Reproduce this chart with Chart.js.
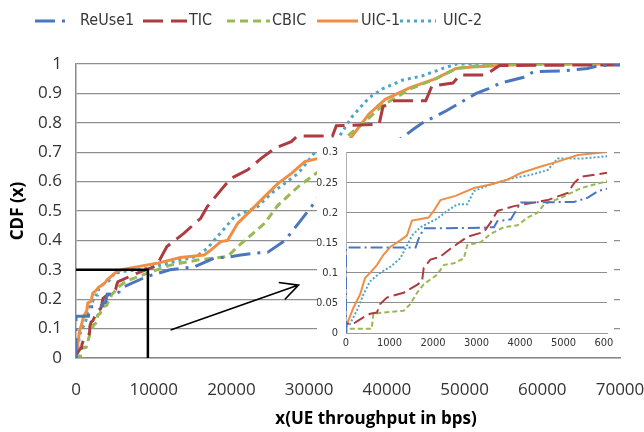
<!DOCTYPE html>
<html>
<head>
<meta charset="utf-8">
<script src="https://cdn.jsdelivr.net/npm/chart.js@4.4.0/dist/chart.umd.min.js"></script>
<style>
body { margin: 0; background: #fff; }
#wrap { position: relative; width: 644px; height: 432px; }
#inset { position: absolute; left: 317px; top: 138px; width: 297px; height: 218px; overflow: hidden; background: #fff; }
</style>
</head>
<body>
<div id="wrap">
  <canvas id="mainChart" width="644" height="432"></canvas>
  <div id="inset"><canvas id="insetChart" width="300" height="218"></canvas></div>
</div>
<script>
// series names and CDF readings (x = UE throughput in bps, y = CDF)
var seriesNames = ['ReUse1', 'TIC', 'CBIC', 'UIC-1', 'UIC-2'];

var reuseX = [0, 0, 1320, 1600, 1670, 1790, 3100, 3400, 3480, 3790, 4020, 5240, 5560, 5790, 6000, 9100, 12100, 15200, 17800, 19500, 21200, 22750, 24700, 26900, 28800, 30300, 31000, 42000, 43500, 44600, 46100, 47600, 50200, 51500, 53000, 54600, 57600, 58900, 60800, 62800, 65800, 67100, 70000];
var reuseY = [0, 0.142, 0.142, 0.142, 0.157, 0.174, 0.175, 0.176, 0.186, 0.189, 0.217, 0.218, 0.225, 0.236, 0.24, 0.277, 0.30, 0.31, 0.34, 0.343, 0.35, 0.356, 0.36, 0.40, 0.464, 0.515, 0.54, 0.75, 0.78, 0.80, 0.82, 0.84, 0.88, 0.90, 0.915, 0.935, 0.955, 0.974, 0.975, 0.977, 0.985, 0.993, 1];

var ticX = [0, 0, 200, 400, 554, 709, 785, 940, 1324, 1633, 1748, 1786, 1940, 2171, 2400, 2788, 3170, 3326, 3480, 3865, 4326, 4635, 5097, 5250, 5404, 5866, 7800, 9970, 10400, 11700, 13870, 16040, 16900, 18640, 19935, 22100, 23830, 25560, 27700, 28500, 33000, 33500, 39000, 39500, 41000, 45000, 45800, 48500, 49400, 52700, 54500, 70000];
var ticY = [0, 0.015, 0.017, 0.026, 0.032, 0.034, 0.048, 0.059, 0.067, 0.08, 0.086, 0.108, 0.122, 0.127, 0.14, 0.16, 0.168, 0.184, 0.203, 0.211, 0.217, 0.221, 0.233, 0.25, 0.26, 0.265, 0.288, 0.31, 0.316, 0.379, 0.424, 0.475, 0.515, 0.571, 0.611, 0.64, 0.679, 0.713, 0.736, 0.755, 0.755, 0.79, 0.795, 0.855, 0.875, 0.875, 0.925, 0.935, 0.963, 0.963, 0.995, 0.997];

var cbicX = [0, 0, 590, 630, 861, 1324, 1478, 1633, 1786, 2094, 2248, 2480, 2710, 2788, 3095, 3326, 3633, 3942, 4173, 4404, 4557, 4942, 5404, 5866, 6520, 9120, 12140, 15600, 19500, 20800, 22530, 24260, 26000, 28600, 31190, 34500, 37000, 39500, 43000, 46300, 49000, 52000, 58000, 70000];
var cbicY = [0, 0.007, 0.007, 0.032, 0.034, 0.037, 0.048, 0.067, 0.081, 0.097, 0.113, 0.116, 0.124, 0.146, 0.151, 0.165, 0.176, 0.179, 0.192, 0.20, 0.214, 0.225, 0.241, 0.25, 0.262, 0.288, 0.316, 0.333, 0.345, 0.379, 0.418, 0.458, 0.52, 0.583, 0.634, 0.745, 0.80, 0.86, 0.915, 0.95, 0.985, 0.995, 1, 1];

var uic1X = [0, 15, 170, 323, 440, 554, 709, 861, 1016, 1247, 1400, 1517, 1900, 2016, 2170, 2517, 2940, 3326, 3711, 4018, 4480, 4866, 5328, 6020, 7800, 10400, 13440, 16470, 17340, 18640, 19500, 20800, 22530, 24260, 26000, 27730, 29450, 31190, 35100, 37700, 39800, 43000, 46300, 48900, 51000, 56000, 60000, 70000];
var uic1Y = [0, 0.013, 0.042, 0.064, 0.092, 0.10, 0.113, 0.13, 0.143, 0.154, 0.162, 0.187, 0.192, 0.203, 0.221, 0.228, 0.241, 0.247, 0.255, 0.266, 0.277, 0.285, 0.296, 0.301, 0.31, 0.322, 0.342, 0.35, 0.367, 0.396, 0.40, 0.458, 0.503, 0.549, 0.594, 0.628, 0.668, 0.679, 0.74, 0.83, 0.88, 0.92, 0.95, 0.985, 0.99, 0.997, 1, 1];

var uic2X = [0, 92, 247, 400, 554, 785, 1016, 1247, 1363, 1517, 1709, 2094, 2325, 2557, 2788, 2940, 3326, 3865, 4250, 4635, 4866, 5400, 6020, 8000, 10000, 13000, 15500, 16900, 20370, 23400, 25130, 28600, 30750, 33300, 35500, 37700, 39400, 42000, 44600, 47200, 49000, 70000];
var uic2Y = [0.01, 0.015, 0.037, 0.064, 0.086, 0.10, 0.11, 0.124, 0.14, 0.162, 0.176, 0.19, 0.203, 0.214, 0.214, 0.236, 0.247, 0.258, 0.263, 0.271, 0.29, 0.29, 0.294, 0.30, 0.31, 0.33, 0.345, 0.373, 0.48, 0.515, 0.56, 0.628, 0.70, 0.73, 0.82, 0.885, 0.915, 0.945, 0.96, 0.985, 1, 1];

var mainXTicks = [0, 10000, 20000, 30000, 40000, 50000, 60000, 70000];
var insetXMax = 6000;
var insetYMax = 0.3;

// zoom marker (x, cdf) and arrow ends in data units
var zoomCorner = [9250, 0.3];
var arrowFrom = [12170, 0.095];
var arrowTo = [28640, 0.248];

var colors = ['#4a76c0', '#ad3c40', '#98b954', '#f08e44', '#4fa6c4'];
var dashMain = [[20, 7, 3, 7], [20, 8], [8, 5], [], [3, 4]];
var dashInset = [[12, 4, 2, 4], [12, 5], [5, 3], [], [2, 2]];

var xs = [reuseX, ticX, cbicX, uic1X, uic2X];
var ys = [reuseY, ticY, cbicY, uic1Y, uic2Y];

var tickFont = '"Open Sans", "Noto Sans", sans-serif';
var narrowFont = '"Liberation Sans Narrow", "DejaVu Sans Condensed", sans-serif';

function makeDatasets(dashes, width) {
    return seriesNames.map(function (name, i) {
        return {
            label: name,
            data: xs[i].map(function (x, j) { return { x: x, y: ys[i][j] }; }),
            borderColor: colors[i],
            borderWidth: width,
            borderDash: dashes[i],
            pointRadius: 0,
            fill: false,
            tension: 0
        };
    });
}

function cdfLabel(v) {
    return String(Number(v.toFixed(2)));
}

//! legend with line samples (sample start, sample end, text start)
var legendSlots = [[35, 70, 80], [143, 187, 189], [227, 270, 272], [317, 358, 361], [400, 436, 443]];
var legendPlugin = {
    id: 'lineLegend',
    afterDraw: function (chart) {
        var ctx = chart.ctx, y = 21;
        ctx.save();
        ctx.font = '16px ' + narrowFont;
        ctx.textBaseline = 'middle';
        chart.data.datasets.forEach(function (ds, i) {
            var slot = legendSlots[i];
            ctx.strokeStyle = ds.borderColor;
            ctx.lineWidth = 3;
            ctx.setLineDash(ds.borderDash);
            ctx.beginPath();
            ctx.moveTo(slot[0], y);
            ctx.lineTo(slot[1], y);
            ctx.stroke();
            ctx.fillStyle = '#383838';
            ctx.fillText(ds.label, slot[2], y);
        });
        ctx.restore();
    }
};

//! zoom marker, arrow and x title
var markPlugin = {
    id: 'marks',
    afterDatasetsDraw: function (chart) {
        var ctx = chart.ctx, sx = chart.scales.x, sy = chart.scales.y;
        ctx.save();
        ctx.strokeStyle = '#000';
        ctx.lineWidth = 2.5;
        ctx.beginPath();
        ctx.moveTo(sx.getPixelForValue(0), sy.getPixelForValue(zoomCorner[1]));
        ctx.lineTo(sx.getPixelForValue(zoomCorner[0]), sy.getPixelForValue(zoomCorner[1]));
        ctx.lineTo(sx.getPixelForValue(zoomCorner[0]), sy.getPixelForValue(0));
        ctx.stroke();

        var x1 = sx.getPixelForValue(arrowFrom[0]), y1 = sy.getPixelForValue(arrowFrom[1]);
        var x2 = sx.getPixelForValue(arrowTo[0]), y2 = sy.getPixelForValue(arrowTo[1]);
        var a = Math.atan2(y2 - y1, x2 - x1);
        ctx.lineWidth = 1.6;
        ctx.beginPath();
        ctx.moveTo(x1, y1);
        ctx.lineTo(x2, y2);
        ctx.moveTo(x2 - 20 * Math.cos(a - 0.47), y2 - 20 * Math.sin(a - 0.47));
        ctx.lineTo(x2, y2);
        ctx.lineTo(x2 - 20 * Math.cos(a + 0.47), y2 - 20 * Math.sin(a + 0.47));
        ctx.stroke();

        ctx.fillStyle = '#000';
        ctx.font = 'bold 17px ' + tickFont;
        ctx.textAlign = 'center';
        ctx.textBaseline = 'middle';
        ctx.fillText('x(UE throughput in bps)', 376, 419);
        ctx.restore();
    }
};

var mainChart = new Chart(document.getElementById('mainChart'), {
    type: 'line',
    data: { datasets: makeDatasets(dashMain, 3) },
    options: {
        responsive: false,
        animation: false,
        layout: { padding: { top: 64, right: 0, left: 0, bottom: 0 } },
        plugins: { legend: { display: false }, tooltip: { enabled: false } },
        scales: {
            x: {
                type: 'linear', min: 0, max: 70000,
                afterBuildTicks: function (s) { s.ticks = mainXTicks.map(function (v) { return { value: v }; }); },
                ticks: { font: { size: 17, family: tickFont }, color: '#333', padding: 22, maxRotation: 0, callback: function (v) { return String(v); } },
                grid: { display: false, drawTicks: false },
                border: { display: true, color: '#8a8a8a', width: 1.5 },
                afterFit: function (s) { s.height = 74; s.paddingLeft = 0; s.paddingRight = 24; }
            },
            y: {
                min: 0, max: 1,
                ticks: { stepSize: 0.1, font: { size: 17, family: tickFont }, color: '#333', padding: 14, callback: cdfLabel },
                grid: { color: '#8f8f8f', lineWidth: 1.3, drawTicks: false },
                border: { display: true, color: '#8a8a8a', width: 1.5 },
                title: { display: true, text: 'CDF (x)', color: '#000', font: { size: 17, weight: 'bold', family: tickFont }, padding: { top: 8, bottom: 0 } },
                afterFit: function (s) { s.width = 76; }
            }
        }
    },
    plugins: [legendPlugin, markPlugin]
});

var insetChart = new Chart(document.getElementById('insetChart'), {
    type: 'line',
    data: { datasets: makeDatasets(dashInset, 2) },
    options: {
        responsive: false,
        animation: false,
        layout: { padding: { top: 11, right: 10, left: 0, bottom: 0 } },
        plugins: { legend: { display: false }, tooltip: { enabled: false } },
        scales: {
            x: {
                type: 'linear', min: 0, max: insetXMax,
                ticks: { stepSize: 1000, font: { size: 11, family: narrowFont }, color: '#333', padding: 4, maxRotation: 0, callback: function (v) { return String(v); } },
                grid: { display: false, drawTicks: false },
                border: { display: true, color: '#9a9a9a' },
                afterFit: function (s) { s.height = 23; s.paddingLeft = 0; s.paddingRight = 0; }
            },
            y: {
                min: 0, max: insetYMax,
                ticks: { stepSize: 0.05, font: { size: 11, family: narrowFont }, color: '#333', padding: 8, callback: cdfLabel },
                grid: { color: '#8f8f8f', lineWidth: 1, drawTicks: false },
                border: { display: true, color: '#b0b0b0' },
                afterFit: function (s) { s.width = 29; }
            }
        }
    }
});
</script>
</body>
</html>
